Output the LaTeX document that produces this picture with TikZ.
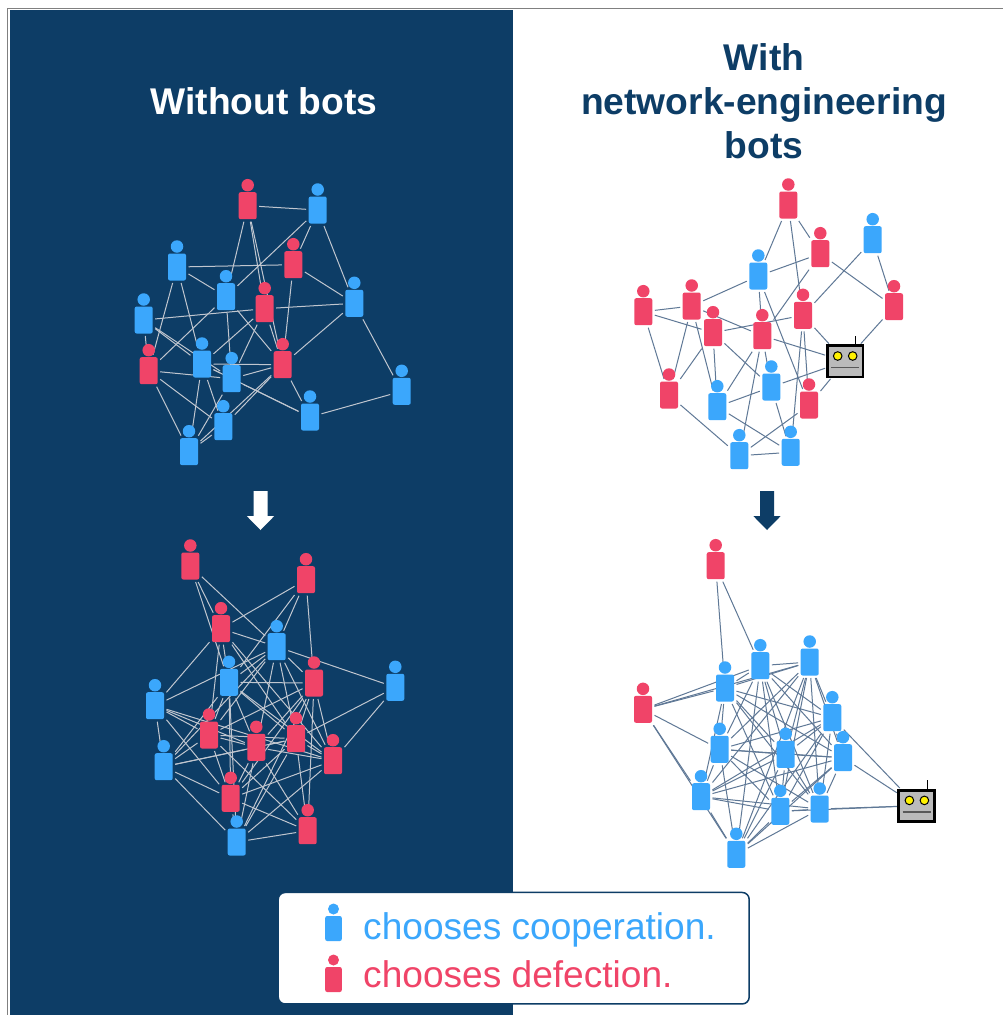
\documentclass[tikz,border=0pt]{standalone}
\usepackage{fontspec}
\setmainfont{Liberation Sans}
\pgfdeclarelayer{bglayer}
\pgfdeclarelayer{edgelayer}
\pgfsetlayers{bglayer,edgelayer,main}
\definecolor{navy}{HTML}{0D3D66}
\definecolor{coop}{HTML}{3BA7FC}
\definecolor{defect}{HTML}{F04468}
\definecolor{edgelight}{HTML}{C0C6CF}
\definecolor{edgedark}{HTML}{5F7896}
\definecolor{botgrey}{HTML}{BBBBBB}
\tikzset{
  bodybox/.style={rectangle,rounded corners=2pt,minimum width=18pt,minimum height=27pt,inner sep=0pt,outer sep=2.5pt},
  headdot/.style={circle,minimum size=12.5pt,inner sep=0pt,outer sep=0pt},
  legendbody/.style={rectangle,rounded corners=2pt,minimum width=16.6pt,minimum height=25pt,inner sep=0pt},
  legendhead/.style={circle,minimum size=11pt,inner sep=0pt},
  lightedge/.style={draw=edgelight,line width=1pt},
  darkedge/.style={draw=edgedark,line width=1pt},
  titletext/.style={font=\fontsize{37.2}{44}\selectfont\bfseries,align=center,inner sep=0pt},
  legendtext/.style={font=\fontsize{37.1}{44}\selectfont,anchor=base west,inner sep=0pt},
  botbox/.style={rectangle,draw=black,line width=2.8pt,fill=botgrey,minimum width=35.8pt,minimum height=31.2pt,inner sep=0pt,outer sep=2pt},
  boteye/.style={circle,draw=black,line width=1pt,fill=yellow,minimum size=8.6pt,inner sep=0pt}
}
\newcommand{\person}[4]{%
  \node[bodybox,fill=#4] (#1) at (#2,#3) {};
  \node[headdot,fill=#4] (#1h) at (#2,#3-20.5) {};
}
\newcommand{\robot}[3]{%
  \node[botbox] (#1) at (#2,#3) {};
  \node[boteye] (#1l) at (#2-7.3,#3-5.3) {};
  \node[boteye] (#1r) at (#2+7.7,#3-5.3) {};
  \coordinate (#1ma) at (#2-14,#3+6.3);
  \coordinate (#1mb) at (#2+14,#3+6.3);
  \coordinate (#1aa) at (#2+10.3,#3-17);
  \coordinate (#1ab) at (#2+10.3,#3-25.5);
  \draw[line width=1.3pt,color=black!65] (#1ma) -- (#1mb);
  \draw[line width=0.9pt,black] (#1aa) -- (#1ab);
}
\newcommand{\bigarrow}[3]{%
  \fill[#3] (#1-7,#2) -- (#1+7,#2) -- (#1+7,#2+25) -- (#1+13.7,#2+25) -- (#1,#2+39) -- (#1-13.7,#2+25) -- (#1-7,#2+25) -- cycle;
}
\begin{document}
\begin{tikzpicture}[x=1pt,y=-1pt]
\useasboundingbox (0,0) rectangle (1003,1015);
\begin{pgfonlayer}{bglayer}
  \fill[white] (0,0) rectangle (1003,1015);
  \draw[color=black!50,line width=1.2pt] (1003,8.3) -- (7.5,8.3) -- (7.5,1015);
  \fill[navy] (10,10) rectangle (513,1015);
\end{pgfonlayer}
\node[titletext,white] (t1) at (264,101) {Without bots};
\node[titletext,navy] (t2) at (764,101) {With\\network-engineering\\bots};
% top left
\person{aa}{247.7}{205.7}{defect}
\person{ab}{317.7}{210}{coop}
\person{ac}{293.3}{264.7}{defect}
\person{ad}{177}{267}{coop}
\person{ae}{226}{296.7}{coop}
\person{af}{264.7}{308.7}{defect}
\person{ag}{354.3}{303.3}{coop}
\person{ah}{143.7}{320}{coop}
\person{ai}{148.7}{370.7}{defect}
\person{aj}{202}{364}{coop}
\person{ak}{231.7}{378.7}{coop}
\person{al}{282.7}{364.7}{defect}
\person{am}{401.7}{391.3}{coop}
\person{an}{310}{417}{coop}
\person{ao}{223.3}{426.7}{coop}
\person{ap}{189}{451.7}{coop}
\begin{pgfonlayer}{edgelayer}
\foreach \u/\v in {aa/ab,aa/ae,aa/af,aa/al,ab/ac,ab/ae,ab/ag,ac/ad,ac/ag,ac/al,ad/ae,ad/ai,ad/aj,ae/ai,ae/ak,ae/al,ah/af,af/ag,af/aj,af/ak,af/al,ag/al,ag/am,ah/ai,ah/aj,ah/ak,ai/ak,ai/ao,ai/ap,aj/ak,aj/al,aj/ap,aj/ao,aj/an,ak/al,ak/an,ak/ap,al/an,al/ao,al/ap,am/an,ao/ap}
  \draw[lightedge] (\u) -- (\v);
\end{pgfonlayer}
% top right
\person{ba}{788.3}{205}{defect}
\person{bb}{820.3}{253.7}{defect}
\person{bc}{872.7}{239.7}{coop}
\person{bd}{758.3}{276}{coop}
\person{be}{894}{306.7}{defect}
\person{bf}{643.3}{311.7}{defect}
\person{bg}{691.7}{306}{defect}
\person{bh}{803}{315.3}{defect}
\person{bi}{713}{332.7}{defect}
\person{bj}{762.3}{335.7}{defect}
\person{bk}{771.3}{387}{coop}
\person{bl}{669}{395}{defect}
\person{bm}{717.3}{406.7}{coop}
\person{bn}{809}{405}{defect}
\person{bo}{739.3}{455.7}{coop}
\person{bp}{790.7}{452.3}{coop}
\robot{bq}{845}{361.3}
\begin{pgfonlayer}{edgelayer}
\foreach \u/\v in {ba/bb,ba/bd,ba/bh,bb/bd,bb/be,bb/bj,bc/be,bc/bh,bd/bg,bd/bj,bd/bn,be/bq,bf/bg,bf/bi,bf/bl,bg/bl,bg/bj,bg/bm,bh/bi,bh/bq,bh/bn,bh/bp,bi/bl,bi/bm,bi/bk,bj/bq,bj/bk,bj/bm,bj/bo,bk/bq,bk/bm,bk/bp,bl/bo,bm/bp,bn/bo,bn/bq,bo/bp}
  \draw[darkedge] (\u) -- (\v);
\end{pgfonlayer}
% bottom left
\person{ca}{190.3}{566}{defect}
\person{cb}{306}{579.7}{defect}
\person{cc}{221}{628.7}{defect}
\person{cd}{276.7}{646.7}{coop}
\person{ce}{229}{682.3}{coop}
\person{cf}{314}{683}{defect}
\person{cg}{395.3}{687.3}{coop}
\person{ch}{155}{705.7}{coop}
\person{ci}{209}{735}{defect}
\person{cj}{256.3}{747.3}{defect}
\person{ck}{296}{738.7}{defect}
\person{cl}{333}{760.7}{defect}
\person{cm}{163.7}{766.7}{coop}
\person{cn}{230.7}{798.3}{defect}
\person{co}{307.7}{830.7}{defect}
\person{cp}{236.7}{842}{coop}
\begin{pgfonlayer}{edgelayer}
\foreach \u/\v in {ca/cc,ca/ce,ca/cd,cb/cc,cb/cd,cb/ce,cb/cf,cc/ch,cc/cd,cc/ce,cc/ck,cc/cl,cc/ci,cd/ce,cd/ch,cd/cf,cd/cg,cd/ci,cd/cm,cd/cj,cd/ck,cd/cl,ce/cf,ce/ci,ce/cj,ce/ck,ce/cl,ce/cn,ce/cp,ce/cm,cf/ci,cf/cj,cf/ck,cf/cl,cf/cn,cf/co,cf/cp,cg/ck,cg/cl,ch/cm,ch/ci,ch/cl,ch/cn,ch/cj,ci/cj,ci/ck,ci/cm,ci/cn,ci/co,cj/ck,cj/cl,cj/cm,cj/cn,cj/cp,cj/co,ck/cl,ck/cm,ck/cn,ck/co,ck/cp,cl/cn,cl/cp,cm/cn,cm/cp,cn/co,cn/cp,co/cp}
  \draw[lightedge] (\u) -- (\v);
\end{pgfonlayer}
% bottom right
\person{da}{715.7}{565.7}{defect}
\person{db}{725}{688}{coop}
\person{dc}{760.3}{665.7}{coop}
\person{dd}{809.7}{662}{coop}
\person{de}{832.3}{717.7}{coop}
\person{df}{643}{709.3}{defect}
\person{dg}{719.7}{749.3}{coop}
\person{dh}{785.7}{754.3}{coop}
\person{di}{843}{757.7}{coop}
\person{dj}{701}{796.7}{coop}
\person{dk}{780.3}{811.3}{coop}
\person{dl}{819.7}{809}{coop}
\person{dm}{736.3}{854.3}{coop}
\robot{dn}{916.7}{805.7}
\begin{pgfonlayer}{edgelayer}
\foreach \u/\v in {da/db,da/dc,df/db,df/dc,df/dd,df/dg,df/dj,df/dm,db/dc,db/dd,db/de,db/dg,db/dh,db/di,db/dj,db/dk,db/dl,dc/dd,dc/de,dc/dg,dc/dh,dc/di,dc/dk,dc/dl,dc/dm,dd/de,dd/dg,dd/dh,dd/di,dd/dj,dd/dk,dd/dl,dd/dm,de/dg,de/dh,de/di,de/dj,de/dk,de/dl,de/dm,dg/dh,dg/di,dg/dj,dg/dk,dg/dl,dg/dm,dh/di,dh/dj,dh/dk,dh/dl,dh/dm,di/dj,di/dk,di/dl,di/dm,dj/dk,dj/dl,dj/dm,dk/dl,dk/dm,dl/dm,de/dn,di/dn,dk/dn,dl/dn}
  \draw[darkedge] (\u) -- (\v);
\end{pgfonlayer}
\bigarrow{260.5}{491}{white}
\bigarrow{767}{491}{navy}
% legend
\node[rectangle,rounded corners=7pt,draw=navy,line width=1.5pt,fill=white,minimum width=471pt,minimum height=111.5pt,inner sep=0pt] (lg) at (513.7,948.2) {};
\node[legendbody,fill=coop] (lc) at (333.5,928.5) {};
\node[legendhead,fill=coop] (lch) at (333.5,909) {};
\node[legendbody,fill=defect] (ld) at (333.5,979.5) {};
\node[legendhead,fill=defect] (ldh) at (333.5,960) {};
\node[legendtext,coop] (lt1) at (363,939) {chooses cooperation.};
\node[legendtext,defect] (lt2) at (363,987) {chooses defection.};
\end{tikzpicture}
\end{document}
